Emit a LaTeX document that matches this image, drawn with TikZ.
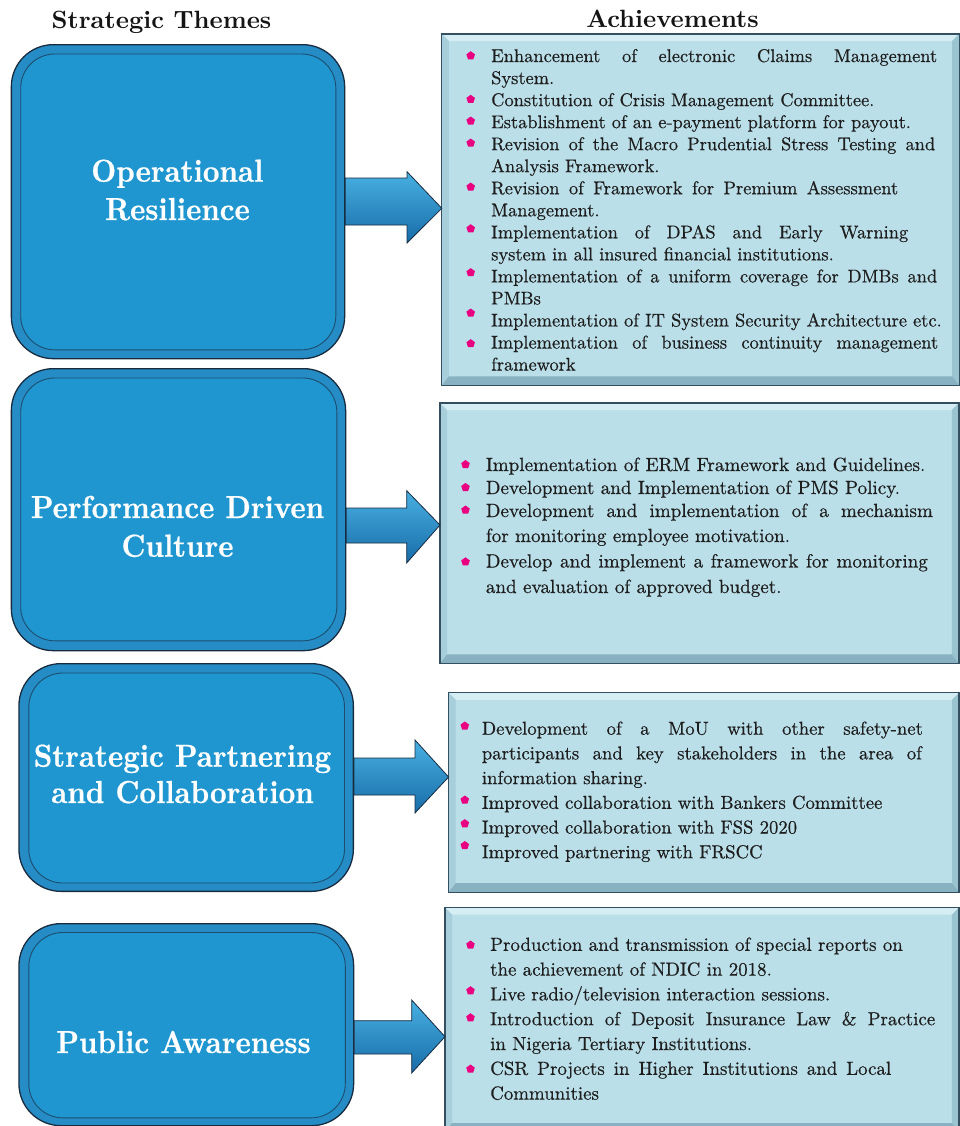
\documentclass[tikz,border=0pt]{standalone}
\usetikzlibrary{shapes.geometric}

% Latin Modern at a fixed design size
\font\headbf="[lmroman10-bold]:mapping=tex-text" at 25bp
\font\themebf="[lmroman10-bold]:mapping=tex-text;embolden=0.6" at 28.9bp
\font\achA="[lmroman10-regular]:mapping=tex-text;embolden=0.5" at 18.4bp
\font\achB="[lmroman10-regular]:mapping=tex-text;embolden=0.5" at 19.1bp
\font\achC="[lmroman10-regular]:mapping=tex-text;embolden=0.5" at 18.7bp
\font\achD="[lmroman10-regular]:mapping=tex-text;embolden=0.5" at 18.9bp

\definecolor{themefill}{RGB}{31,150,208}
\definecolor{themering}{RGB}{38,140,198}
\definecolor{themeedge}{RGB}{24,44,64}
\definecolor{themeline}{RGB}{28,78,112}
\definecolor{achfill}{RGB}{186,223,233}
\definecolor{achtop}{RGB}{212,238,244}
\definecolor{achleft}{RGB}{166,207,219}
\definecolor{achright}{RGB}{155,196,209}
\definecolor{achbottom}{RGB}{136,178,193}
\definecolor{achedge}{RGB}{52,80,96}
\definecolor{bulletpink}{RGB}{232,0,128}
\definecolor{arrowlight}{RGB}{72,176,226}
\definecolor{arrowdark}{RGB}{24,108,168}
\definecolor{bodytext}{RGB}{30,30,30}
\definecolor{headtext}{RGB}{20,20,20}

% a line set to a given width, spaces stretched
\newcommand\wl[2]{\makebox[#1bp][s]{#2}}
% slightly taller lettering for the theme titles
\newcommand\tall[1]{\scalebox{1}[1.1]{#1}}

% bevelled frame of an achievement panel
\newcommand\achbevel[1]{%
  \fill[achtop] (#1.north west) -- (#1.north east) -- ([shift={(-7,7)}]#1.north east) -- ([shift={(7,7)}]#1.north west) -- cycle;
  \fill[achleft] (#1.north west) -- ([shift={(7,7)}]#1.north west) -- ([shift={(7,-9)}]#1.south west) -- (#1.south west) -- cycle;
  \fill[achright] (#1.north east) -- ([shift={(-7,7)}]#1.north east) -- ([shift={(-7,-9)}]#1.south east) -- (#1.south east) -- cycle;
  \fill[achbottom] (#1.south west) -- ([shift={(7,-9)}]#1.south west) -- ([shift={(-7,-9)}]#1.south east) -- (#1.south east) -- cycle;
  \draw[achedge, line width=1.3bp] (#1.north west) rectangle (#1.south east);
}

% block arrow: from, to, shaft top, shaft bottom, head x, head top, head bottom, tip y
\newcommand\blockarr[8]{%
  \draw[blockarrow] (#1.east |- 0,#3) -- (#5,#3) -- (#5,#6) -- (#2.west |- 0,#8)
    -- (#5,#7) -- (#5,#4) -- (#1.east |- 0,#4) -- cycle;
}

\tikzset{
  themeouter/.style={draw=themeedge, line width=1.3bp, fill=themering, rounded corners=42bp, inner sep=0, anchor=north west},
  themeinner/.style={draw=themeline, line width=0.9bp, fill=themefill, rounded corners=34bp},
  themetext/.style={text=white, font=\themebf, anchor=base, inner sep=0},
  achbox/.style={fill=achfill, inner sep=0, anchor=north west},
  achtext/.style={anchor=base west, inner sep=0, text=bodytext},
  bullet/.style={regular polygon, regular polygon sides=5, fill=bulletpink, inner sep=0, minimum size=9bp},
  blockarrow/.style={draw=themeedge, line width=0.8bp, top color=arrowlight, bottom color=arrowdark},
  heading/.style={font=\headbf, text=headtext, anchor=base, inner sep=0},
}

\begin{document}
\begin{tikzpicture}[x=1bp, y=-1bp]
\useasboundingbox[fill=white] (0,0) rectangle (960,1126);

% column headings
\node[heading] (H1) at (161.5,28) {Strategic Themes};
\node[heading] (H2) at (672.5,27) {Achievements};

% strategic theme boxes
\node[themeouter, minimum width=333.3bp, minimum height=314bp] (T1) at (10.7,44) {};
\draw[themeinner] ([shift={(10,10)}]T1.north west) rectangle ([shift={(-9.5,-9.5)}]T1.south east);
\node[themeouter, minimum width=334.3bp, minimum height=282bp] (T2) at (10.7,368) {};
\draw[themeinner] ([shift={(10,10)}]T2.north west) rectangle ([shift={(-9.5,-10.5)}]T2.south east);
\node[themeouter, minimum width=334.4bp, minimum height=227.7bp] (T3) at (18.3,663) {};
\draw[themeinner] ([shift={(10.5,10)}]T3.north west) rectangle ([shift={(-9.5,-9)}]T3.south east);
\node[themeouter, minimum width=334.7bp, minimum height=202bp] (T4) at (18.3,923) {};
\draw[themeinner] ([shift={(10.5,9.5)}]T4.north west) rectangle ([shift={(-9,-8.5)}]T4.south east);

% achievement panels
\node[achbox, minimum width=517bp, minimum height=351bp] (A1) at (441.8,34) {};
\achbevel{A1}
\node[achbox, minimum width=518.5bp, minimum height=260bp] (A2) at (440,403) {};
\achbevel{A2}
\node[achbox, minimum width=510bp, minimum height=199bp] (A3) at (448.6,692.8) {};
\achbevel{A3}
\node[achbox, minimum width=513.5bp, minimum height=224bp] (A4) at (445,907.6) {};
\achbevel{A4}

% arrows from themes to achievements
\blockarr{T1}{A1}{178}{225}{407}{171.7}{243}{208.3}
\blockarr{T2}{A2}{508}{543}{406.7}{490.7}{563}{525}
\blockarr{T3}{A3}{758}{795}{415}{740}{813}{777}
\blockarr{T4}{A4}{1020.7}{1054}{411.7}{1000}{1073}{1036.7}

% theme titles
\node[themetext] (T1a) at (177.3,181.7) {\tall{Operational}};
\node[themetext] (T1b) at (177.5,220) {\tall{Resilience}};
\node[themetext] (T2a) at (177.5,518) {\tall{Performance Driven}};
\node[themetext] (T2b) at (177.5,556.7) {\tall{Culture}};
\node[themetext] (T3a) at (182.5,766.7) {\tall{Strategic Partnering}};
\node[themetext] (T3b) at (182.5,803) {\tall{and Collaboration}};
\node[themetext] (T4a) at (183.5,1053) {\tall{Public Awareness}};

% achievement lists
\node[achtext] (L1) at (491,62) {\parbox[t]{480bp}{\achA\baselineskip=22.04bp
\wl{446}{Enhancement of electronic Claims Management}\\
System.\\
Constitution of Crisis Management Committee.\\
Establishment of an e-payment platform for payout.\\
\wl{444}{Revision of the Macro Prudential Stress Testing and}\\
Analysis Framework.\\
\wl{407}{Revision of Framework for Premium Assessment}\\
Management.\\
\wl{417}{Implementation of DPAS and Early Warning}\\
system in all insured financial institutions.\\
\wl{446}{Implementation of a uniform coverage for DMBs and}\\
PMBs\\
Implementation of IT System Security Architecture etc.\\
\wl{447}{Implementation of business continuity management}\\
framework}};

\node[achtext] (L2) at (485.7,471) {\parbox[t]{480bp}{\achB\baselineskip=23bp
Implementation of ERM Framework and Guidelines.\\
Development and Implementation of PMS Policy.\\
\wl{447}{Development and implementation of a mechanism}\\[2bp]
for monitoring employee motivation.\\[2.5bp]
\wl{442}{Develop and implement a framework for monitoring}\\[2.5bp]
and evaluation of approved budget.}};

\node[achtext] (L3) at (481.7,734.7) {\parbox[t]{480bp}{\achC\baselineskip=24.7bp
\wl{441}{Development of a MoU with other safety-net}\\
\wl{440}{participants and key stakeholders in the area of}\\
information sharing.\\
Improved collaboration with Bankers Committee\\
Improved collaboration with FSS 2020\\
Improved partnering with FRSCC}};

\node[achtext] (L4) at (490,950.8) {\parbox[t]{480bp}{\achD\baselineskip=24.8bp
Production and transmission of special reports on\\
the achievement of NDIC in 2018.\\
Live radio/television interaction sessions.\\
\wl{445}{Introduction of Deposit Insurance Law \& Practice}\\
in Nigeria Tertiary Institutions.\\
\wl{401}{CSR Projects in Higher Institutions and Local}\\
Communities}};

% list bullets
\foreach \bx/\by [count=\k] in {
  470.7/55.7, 470.7/99.3, 470.7/121, 470.7/143, 470.7/187,
  470.7/228.7, 470.7/272.6, 470.7/313, 470.7/343.6,
  465.5/464.5, 465.5/487.4, 465.5/510, 465.5/561.8,
  464.8/726, 464.8/800, 464.8/823.6, 464.8/845.5,
  470.5/945, 470.5/990.7, 470.5/1017.7, 470.5/1069}
  \node[bullet] (p\k) at (\bx,\by) {};
\end{tikzpicture}
\end{document}
